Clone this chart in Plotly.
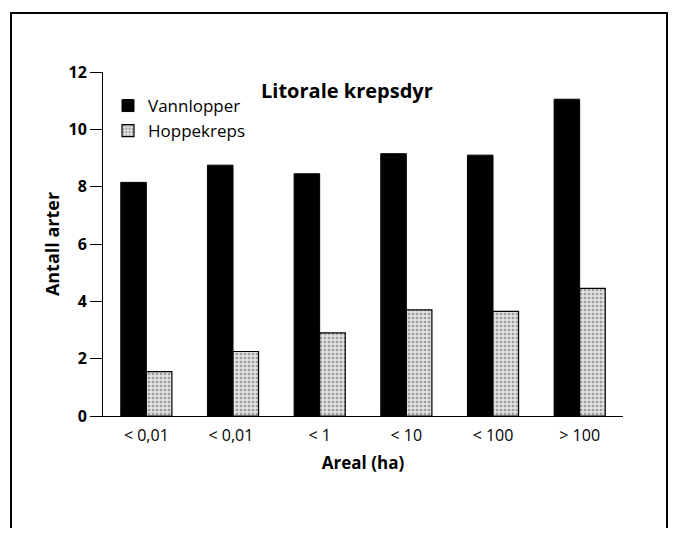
import plotly.graph_objects as go

categories = ["< 0,01", "< 0,01 ", "< 1", "< 10", "< 100", "> 100"]
vannlopper = [8.15, 8.75, 8.45, 9.15, 9.1, 11.05]
hoppekreps = [1.55, 2.25, 2.9, 3.7, 3.65, 4.45]
y_ticks = [0, 2, 4, 6, 8, 10, 12]

FONT = "Open Sans"

fig = go.Figure()
fig.add_trace(go.Bar(
    x=categories, y=vannlopper, name="Vannlopper",
    marker=dict(color="black", line=dict(color="black", width=1)),
))
fig.add_trace(go.Bar(
    x=categories, y=hoppekreps, name="Hoppekreps",
    marker=dict(color="#e0e0e0", line=dict(color="black", width=1.2),
                pattern=dict(shape=".", fgcolor="#555555", bgcolor="#e0e0e0",
                             size=4, solidity=0.35)),
))

OFF = 8  # page body margin
W, H = 677 - 2 * OFF, 536 - 2 * OFF
# plot area in screen pixels: x 103..623, y 72..416
ml = 103 - OFF
mt = 72 - OFF
mr = W - (623 - OFF)
mb = H - (416 - OFF)
pw, ph = W - ml - mr, H - mt - mb

def px(x):
    return (x - OFF - ml) / pw

def py(y):
    return (H - mb - (y - OFF)) / ph

fig.update_layout(
    width=W, height=H,
    margin=dict(l=ml, r=mr, t=mt, b=mb),
    paper_bgcolor="white", plot_bgcolor="white",
    barmode="group", bargap=0.41, bargroupgap=0,
    font=dict(family=FONT, color="black"),
    showlegend=True,
    legend=dict(x=px(108), y=py(88), xanchor="left", yanchor="top",
                font=dict(size=17, family=FONT), bgcolor="rgba(0,0,0,0)",
                tracegroupgap=0, itemwidth=30),
    xaxis=dict(
        showline=True, linecolor="black", linewidth=1,
        ticks="", showgrid=False, zeroline=False,
        tickfont=dict(size=16, family=FONT), ticklabelstandoff=5,
        title=dict(text="<b>Areal (ha)</b>", font=dict(size=17, family=FONT), standoff=11),
    ),
    yaxis=dict(
        range=[0, 12], tickvals=y_ticks,
        showline=True, linecolor="black", linewidth=1,
        ticks="outside", ticklen=12, tickcolor="black", tickwidth=1,
        showgrid=False, zeroline=False,
        tickfont=dict(size=16, family=FONT, weight="bold"),
        title=dict(text="<b>Antall arter</b>", font=dict(size=18, family=FONT), standoff=4),
    ),
    annotations=[dict(
        text="<b>Litorale krepsdyr</b>", x=px(347), y=py(90), xref="paper", yref="paper",
        showarrow=False, font=dict(size=20, family=FONT), xanchor="center", yanchor="middle",
    )],
    shapes=[dict(
        type="rect", xref="paper", yref="paper",
        x0=px(11), x1=px(667), y0=py(545), y1=py(13),
        line=dict(color="black", width=2), fillcolor="rgba(0,0,0,0)", layer="below",
    )],
)

fig.write_html("out.html")
